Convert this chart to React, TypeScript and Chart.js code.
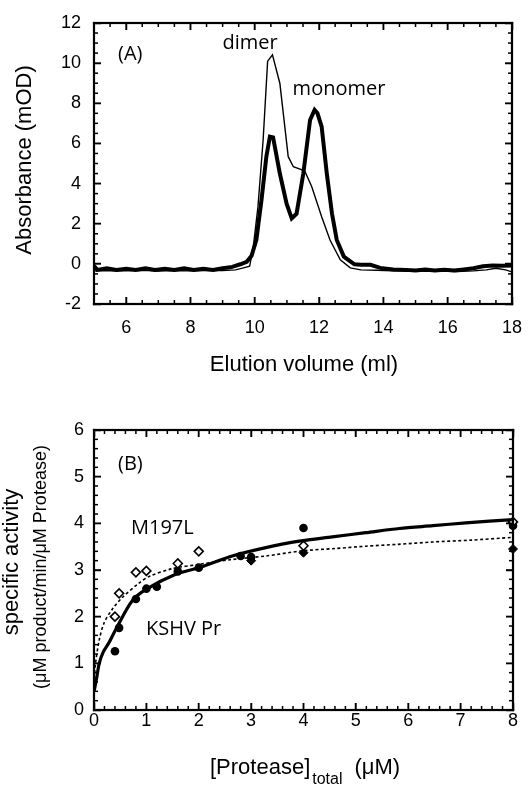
import React, { useEffect, useRef } from "react";
import { Chart, registerables } from "chart.js";

Chart.register(...registerables);

// ---------- Panel A: elution profiles ----------
const thickVolume = [5.0, 5.1, 5.4, 5.7, 6.0, 6.3, 6.6, 6.9, 7.2, 7.5, 7.8, 8.1, 8.4, 8.7, 9.0, 9.3, 9.55, 9.75, 9.9, 10.05, 10.21, 10.36, 10.47, 10.57, 10.78, 10.99, 11.15, 11.3, 11.51, 11.72, 11.86, 11.95, 12.08, 12.24, 12.4, 12.55, 12.77, 13.1, 13.3, 13.6, 13.9, 14.3, 14.7, 15.0, 15.3, 15.6, 15.9, 16.2, 16.5, 16.8, 17.1, 17.4, 17.7, 18.0];
const thickAbs = [-0.1, -0.3, -0.22, -0.3, -0.25, -0.3, -0.22, -0.3, -0.25, -0.3, -0.22, -0.3, -0.25, -0.3, -0.22, -0.15, -0.02, 0.1, 0.4, 1.2, 3.2, 5.34, 6.34, 6.3, 4.5, 3.0, 2.27, 2.5, 4.5, 7.17, 7.67, 7.5, 6.84, 4.5, 2.52, 1.19, 0.36, -0.02, -0.05, -0.05, -0.2, -0.28, -0.3, -0.33, -0.28, -0.33, -0.3, -0.33, -0.28, -0.22, -0.12, -0.08, -0.1, -0.08];

const thinVolume = [5.0, 5.5, 6.0, 6.5, 7.0, 7.5, 8.0, 8.5, 9.0, 9.4, 9.65, 9.84, 9.95, 10.1, 10.26, 10.4, 10.55, 10.78, 11.04, 11.2, 11.45, 11.56, 11.77, 12.08, 12.34, 12.66, 12.97, 13.3, 13.8, 14.3, 14.8, 15.3, 15.8, 16.3, 16.8, 17.2, 17.5, 17.8, 18.0];
const thinAbs = [-0.35, -0.33, -0.35, -0.32, -0.36, -0.33, -0.35, -0.33, -0.33, -0.3, -0.2, -0.12, 0.8, 2.85, 6.17, 10.1, 10.42, 9.0, 5.34, 4.84, 4.7, 4.6, 3.85, 2.35, 1.19, 0.2, -0.2, -0.3, -0.32, -0.35, -0.35, -0.37, -0.36, -0.38, -0.35, -0.3, -0.22, -0.3, -0.4];

const aTicksX = [6, 8, 10, 12, 14, 16, 18];
const aTicksY = [-2, 0, 2, 4, 6, 8, 10, 12];

// ---------- Panel B: specific activity ----------
const kshvConc = [0.4, 0.48, 0.8, 1.0, 1.2, 1.6, 2.0, 2.8, 3.0, 4.0, 8.0];
const kshvActivity = [1.26, 1.76, 2.38, 2.6, 2.64, 2.97, 3.05, 3.3, 3.28, 3.9, 3.95];

const m197lConc = [0.4, 0.48, 0.8, 1.0, 1.6, 2.0, 4.0, 8.0];
const m197lActivity = [2.0, 2.5, 2.95, 2.98, 3.14, 3.4, 3.52, 4.03];

const filledDiamondConc = [3.0, 4.0, 8.0];
const filledDiamondActivity = [3.2, 3.37, 3.45];

const kshvFitConc = [0, 0.05, 0.1, 0.18, 0.29, 0.45, 0.73, 1.0, 1.56, 2.0, 2.64, 3.28, 3.92, 4.55, 5.19, 5.83, 6.47, 7.1, 8.0];
const kshvFitActivity = [0.39, 0.68, 1.0, 1.25, 1.45, 1.8, 2.34, 2.59, 2.91, 3.05, 3.3, 3.48, 3.62, 3.71, 3.8, 3.89, 3.95, 4.01, 4.08];

const m197lFitConc = [0, 0.03, 0.1, 0.19, 0.35, 0.54, 0.86, 1.05, 1.5, 2.0, 2.6, 3.28, 3.97, 4.6, 5.19, 5.8, 6.47, 7.2, 8.0];
const m197lFitActivity = [0.55, 1.0, 1.5, 1.86, 2.16, 2.41, 2.72, 2.86, 3.03, 3.12, 3.22, 3.3, 3.41, 3.46, 3.51, 3.55, 3.6, 3.64, 3.7];

const bTicksX = [0, 1, 2, 3, 4, 5, 6, 7, 8];
const bTicksY = [0, 1, 2, 3, 4, 5, 6];

const zip = (xs: number[], ys: number[]) => xs.map((x, i) => ({ x, y: ys[i] }));

const TICK_FONT = '"Liberation Sans", Arial, sans-serif';
const LABEL_FONT = '"Open Sans", sans-serif';
const TL = -7; // inward major tick length

type TextItem = {
  text: string;
  x: number;
  y: number;
  font: string;
  align?: CanvasTextAlign;
  rotate?: boolean;
};

function makeBoxPlugin() {
  return {
    id: "plotBox",
    afterDraw(chart: any) {
      const ctx = chart.ctx;
      const area = chart.chartArea;
      ctx.save();
      ctx.fillStyle = "#000000";
      const bw = 2.2;
      const w = area.right - area.left;
      const h = area.bottom - area.top;
      ctx.fillRect(area.left - bw / 2, area.top - bw / 2, w + bw, bw);
      ctx.fillRect(area.left - bw / 2, area.bottom - bw / 2, w + bw, bw);
      ctx.fillRect(area.left - bw / 2, area.top - bw / 2, bw, h + bw);
      ctx.fillRect(area.right - bw / 2, area.top - bw / 2, bw, h + bw);
      ctx.restore();
    },
  };
}

function makeTickPlugin(minorX: number, minorY: number, majorX: number[], majorY: number[]) {
  return {
    id: "inTicks",
    afterDraw(chart: any) {
      const ctx = chart.ctx;
      const area = chart.chartArea;
      const sx = chart.scales.x;
      const sy = chart.scales.y;
      ctx.save();
      ctx.fillStyle = "#000000";
      const tw = 1.5;
      try {
        const x0 = Number(sx.min);
        const x1 = Number(sx.max);
        const nx = Math.round((x1 - x0) / minorX);
        for (let i = 0; i <= nx; i++) {
          const v = x0 + i * minorX;
          let len = 4;
          for (let k = 0; k < majorX.length; k++) if (Math.abs(majorX[k] - v) < 1e-6) len = 7;
          const px = Number(sx.getPixelForValue(v));
          ctx.fillRect(px - tw / 2, area.bottom - len, tw, len);
          ctx.fillRect(px - tw / 2, area.top, tw, len);
        }
        const y0 = Number(sy.min);
        const y1 = Number(sy.max);
        const ny = Math.round((y1 - y0) / minorY);
        for (let i = 0; i <= ny; i++) {
          const v = y0 + i * minorY;
          let len = 4;
          for (let k = 0; k < majorY.length; k++) if (Math.abs(majorY[k] - v) < 1e-6) len = 7;
          const py = Number(sy.getPixelForValue(v));
          ctx.fillRect(area.left, py - tw / 2, len, tw);
          ctx.fillRect(area.right - len, py - tw / 2, len, tw);
        }
      } catch (e) {
        // ignore
      }
      ctx.restore();
    },
  };
}

function makeTextPlugin(texts: (ctx: CanvasRenderingContext2D) => TextItem[]) {
  return {
    id: "textLabels",
    afterDraw(chart: any) {
      const ctx = chart.ctx;
      ctx.save();
      ctx.fillStyle = "#000000";
      for (const t of texts(ctx)) {
        ctx.font = t.font;
        ctx.textAlign = t.align || "left";
        ctx.textBaseline = "alphabetic";
        if (t.rotate) {
          ctx.save();
          ctx.translate(t.x, t.y);
          ctx.rotate(-Math.PI / 2);
          ctx.fillText(t.text, 0, 0);
          ctx.restore();
        } else {
          ctx.fillText(t.text, t.x, t.y);
        }
      }
      ctx.restore();
    },
  };
}

const zeroPad = (s: any) => {
  s.paddingLeft = 0;
  s.paddingRight = 0;
  s.paddingTop = 0;
  s.paddingBottom = 0;
};

function axisOpts(min: number, max: number, ticks: number[], padding: number, size: number, horizontal: boolean) {
  return {
    type: "linear" as const,
    min,
    max,
    grid: { display: true, drawOnChartArea: false, drawTicks: true, tickLength: TL, color: "#000", tickColor: "#000", tickWidth: 1.5 },
    border: { display: true, color: "#000", width: 2 },
    ticks: {
      autoSkip: false,
      maxRotation: 0,
      padding: padding - TL,
      color: "#000",
      font: { family: TICK_FONT, size: 18 },
    },
    afterBuildTicks: (s: any) => {
      s.ticks = ticks.map((v) => ({ value: v }));
    },
    afterFit: (s: any) => {
      if (horizontal) s.height = size;
      else s.width = size;
      zeroPad(s);
    },
  };
}

function mirrorAxis(min: number, max: number, ticks: number[], position: "top" | "right") {
  return {
    type: "linear" as const,
    position,
    min,
    max,
    grid: { display: true, drawOnChartArea: false, drawTicks: true, tickLength: TL, color: "#000", tickColor: "#000", tickWidth: 1.5 },
    border: { display: true, color: "#000", width: 2 },
    ticks: { display: false },
    afterBuildTicks: (s: any) => {
      s.ticks = ticks.map((v) => ({ value: v }));
    },
    afterFit: (s: any) => {
      if (position === "top") s.height = 0;
      else s.width = 0;
      zeroPad(s);
    },
  };
}

function PanelA() {
  const ref = useRef<HTMLCanvasElement>(null);
  useEffect(() => {
    const chart = new Chart(ref.current!, {
      type: "scatter",
      data: {
        datasets: [
          { data: zip(thinVolume, thinAbs), showLine: true, borderColor: "#000", borderWidth: 1.4, pointRadius: 0, tension: 0 },
          { data: zip(thickVolume, thickAbs), showLine: true, borderColor: "#000", borderWidth: 4, pointRadius: 0, tension: 0 },
        ],
      },
      options: {
        animation: false,
        responsive: false,
        devicePixelRatio: 1,
        events: [],
        layout: { padding: { top: 23, right: 16, left: 0, bottom: 0 } },
        plugins: { legend: { display: false }, tooltip: { enabled: false } },
        scales: {
          x: axisOpts(5, 18, aTicksX, 13, 88, true),
          y: axisOpts(-2, 12, aTicksY, 13, 94, false),
          x2: mirrorAxis(5, 18, aTicksX, "top"),
          y2: mirrorAxis(-2, 12, aTicksY, "right"),
        },
      },
      plugins: [
        makeBoxPlugin(),
        makeTickPlugin(0.5, 0.5, aTicksX, aTicksY),
        makeTextPlugin(() => [
          { text: "(A)", x: 118, y: 60, font: `20px ${LABEL_FONT}` },
          { text: "dimer", x: 250, y: 49, font: `20px ${LABEL_FONT}`, align: "center" },
          { text: "monomer", x: 339, y: 95, font: `20px ${LABEL_FONT}`, align: "center" },
          { text: "Elution volume (ml)", x: 304, y: 371, font: `22px ${TICK_FONT}`, align: "center" },
          { text: "Absorbance (mOD)", x: 31, y: 160, font: `22px ${TICK_FONT}`, align: "center", rotate: true },
        ]),
      ],
    } as any);
    return () => chart.destroy();
  }, []);
  return <canvas ref={ref} width={528} height={392} style={{ display: "block" }} />;
}

function PanelB() {
  const ref = useRef<HTMLCanvasElement>(null);
  useEffect(() => {
    const chart = new Chart(ref.current!, {
      type: "scatter",
      data: {
        datasets: [
          { data: zip(m197lFitConc, m197lFitActivity), showLine: true, borderColor: "#000", borderWidth: 1.6, borderDash: [3, 2.5], pointRadius: 0, tension: 0.3 },
          { data: zip(kshvFitConc, kshvFitActivity), showLine: true, borderColor: "#000", borderWidth: 3.2, pointRadius: 0, tension: 0.3 },
          { data: zip(m197lConc, m197lActivity), pointStyle: "rectRot", pointRadius: 4.5, backgroundColor: "#fff", borderColor: "#000", borderWidth: 1.6, clip: false },
          { data: zip(filledDiamondConc, filledDiamondActivity), pointStyle: "rectRot", pointRadius: 4.5, backgroundColor: "#000", borderColor: "#000", borderWidth: 1, clip: false },
          { data: zip(kshvConc, kshvActivity), pointStyle: "circle", pointRadius: 4.3, backgroundColor: "#000", borderColor: "#000", borderWidth: 0, clip: false },
        ],
      },
      options: {
        animation: false,
        responsive: false,
        devicePixelRatio: 1,
        events: [],
        layout: { padding: { top: 38, right: 15, left: 0, bottom: 0 } },
        plugins: { legend: { display: false }, tooltip: { enabled: false } },
        scales: {
          x: axisOpts(0, 8, bTicksX, 0, 75, true),
          y: axisOpts(0, 6, bTicksY, 10, 94, false),
          x2: mirrorAxis(0, 8, bTicksX, "top"),
          y2: mirrorAxis(0, 6, bTicksY, "right"),
        },
      },
      plugins: [
        makeBoxPlugin(),
        makeTickPlugin(0.2, 0.2, bTicksX, bTicksY),
        makeTextPlugin((ctx) => {
          ctx.font = `22px ${TICK_FONT}`;
          const w1 = ctx.measureText("[Protease]").width;
          ctx.font = `16px ${TICK_FONT}`;
          const w2 = ctx.measureText("total").width;
          const x0 = 210;
          const items: TextItem[] = [
            { text: "(B)", x: 118, y: 78, font: `20px ${LABEL_FONT}` },
            { text: "M197L", x: 131, y: 142, font: `20px ${LABEL_FONT}` },
            { text: "KSHV Pr", x: 146, y: 243, font: `20px ${LABEL_FONT}` },
            { text: "[Protease]", x: x0, y: 382, font: `22px ${TICK_FONT}` },
            { text: "total", x: x0 + w1 + 2, y: 392, font: `16px ${TICK_FONT}` },
            { text: "(\u03bcM)", x: x0 + w1 + 2 + w2 + 12, y: 382, font: `22px ${TICK_FONT}` },
            { text: "specific activity", x: 18, y: 170, font: `22px ${TICK_FONT}`, align: "center", rotate: true },
            { text: "(\u03bcM product/min/\u03bcM Protease)", x: 46, y: 175, font: `18px ${TICK_FONT}`, align: "center", rotate: true },
          ];
          return items;
        }),
      ],
    } as any);
    return () => chart.destroy();
  }, []);
  return <canvas ref={ref} width={528} height={393} style={{ display: "block" }} />;
}

export default function App() {
  return (
    <div style={{ position: "absolute", left: 0, top: 0, width: 528, height: 785, background: "#fff" }}>
      <PanelA />
      <PanelB />
    </div>
  );
}
